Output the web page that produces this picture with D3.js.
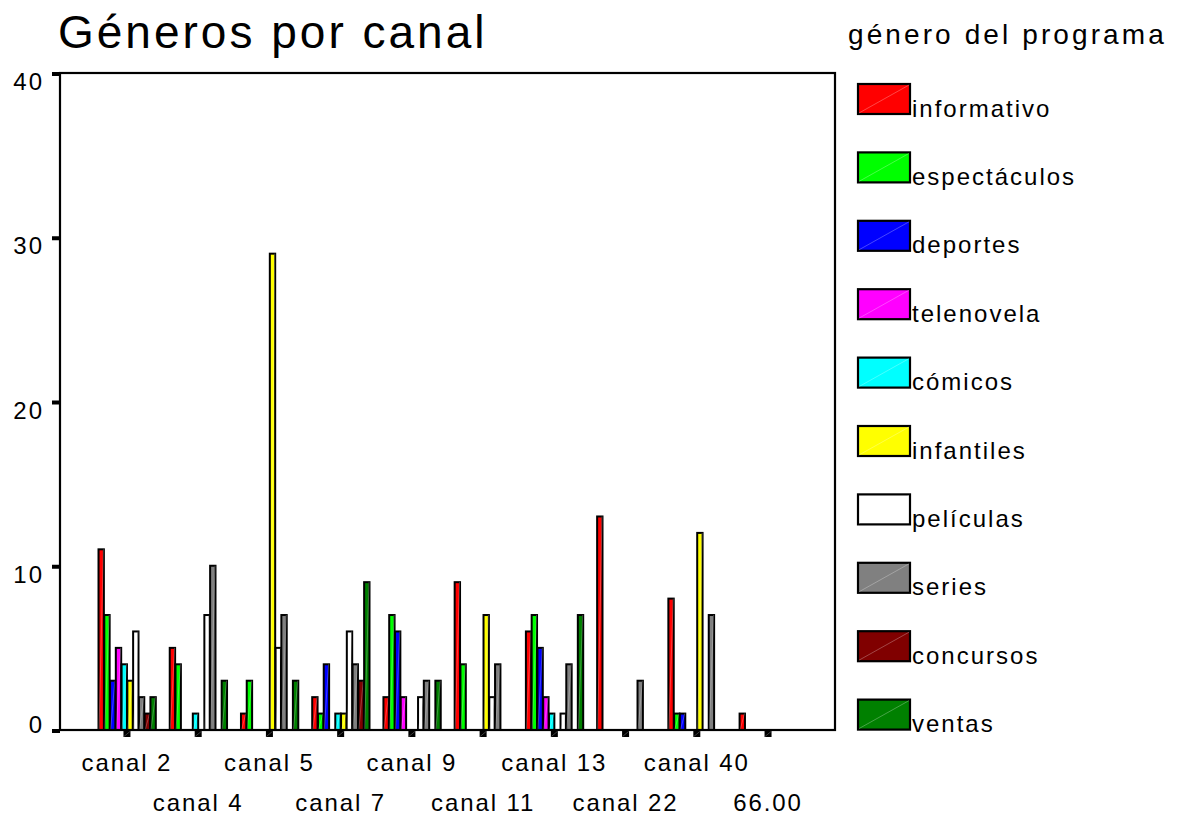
<!DOCTYPE html>
<html>
<head>
<meta charset="utf-8">
<script src="https://cdn.jsdelivr.net/npm/d3@7/dist/d3.min.js"></script>
<style>
  html, body { margin: 0; padding: 0; background: #fff; }
  svg { display: block; }
  text { font-family: "Liberation Sans", Arial, sans-serif; fill: #000; }
</style>
</head>
<body>
<svg id="chart" width="1196" height="816"></svg>
<script>
// ---- data ----
const categories = ["canal 2", "canal 4", "canal 5", "canal 7", "canal 9", "canal 11", "canal 13", "canal 22", "canal 40", "66.00"];
const seriesNames = ["informativo", "espectáculos", "deportes", "telenovela", "cómicos", "infantiles", "películas", "series", "concursos", "ventas"];
const seriesColors = ["#ff0000", "#00ff00", "#0000ff", "#ff00ff", "#00ffff", "#ffff00", "#ffffff", "#808080", "#800000", "#008000"];
const informativo  = [11, 5, 1, 2, 2, 9, 6, 13, 8, 1];
const espectaculos = [7, 4, 3, 1, 7, 4, 7, 0, 1, 0];
const deportes     = [3, 0, 0, 4, 6, 0, 5, 0, 1, 0];
const telenovela   = [5, 0, 0, 0, 2, 0, 2, 0, 0, 0];
const comicos      = [4, 1, 0, 1, 0, 0, 1, 0, 0, 0];
const infantiles   = [3, 0, 29, 1, 0, 7, 0, 0, 12, 0];
const peliculas    = [6, 7, 5, 6, 2, 2, 1, 0, 0, 0];
const series       = [2, 10, 7, 4, 3, 4, 4, 3, 7, 0];
const concursos    = [1, 0, 0, 3, 0, 0, 0, 0, 0, 0];
const ventas       = [2, 3, 3, 9, 3, 0, 7, 0, 0, 0];
const yTicks = [0, 10, 20, 30, 40];
const titleText = "Géneros por canal";
const legendTitle = "género del programa";

const seriesValues = [informativo, espectaculos, deportes, telenovela, comicos, infantiles, peliculas, series, concursos, ventas];

// ---- layout ----
const svg = d3.select("#chart");
svg.append("rect").attr("width", 1196).attr("height", 816).attr("fill", "#fff");

const plot = { left: 60, right: 835, top: 73, bottom: 730 };

const x = d3.scalePoint().domain(categories).range([plot.left, plot.right]).padding(0.94);
const groupW = x.step() * 0.81;
const xInner = d3.scaleBand().domain(seriesNames).range([-groupW / 2 - 0.6, groupW / 2 - 0.6]);
const y = d3.scaleLinear().domain([0, 40]).range([plot.bottom, plot.top]);

// title
svg.append("text")
  .attr("x", 58).attr("y", 48)
  .style("font-size", "46px").style("letter-spacing", "3px")
  .text(titleText);

// bars
const gBars = svg.append("g");
categories.forEach((cat, ci) => {
  seriesNames.forEach((s, si) => {
    const v = seriesValues[si][ci];
    if (!v) return;
    const bx = x(cat) + xInner(s) + 1;
    const bw = xInner.bandwidth() - 0.4;
    const by = y(v);
    const bh = y(0) - y(v);
    gBars.append("rect")
      .attr("x", bx).attr("y", by).attr("width", bw).attr("height", bh)
      .attr("fill", seriesColors[si]).attr("stroke", "#000").attr("stroke-width", 2);
    gBars.append("line")
      .attr("x1", bx + 0.5).attr("y1", y(0)).attr("x2", bx + bw - 0.5).attr("y2", by)
      .attr("stroke", "#fff").attr("stroke-opacity", 0.3).attr("stroke-width", 0.8);
  });
});

// frame
svg.append("rect")
  .attr("x", plot.left).attr("y", plot.top)
  .attr("width", plot.right - plot.left).attr("height", plot.bottom - plot.top)
  .attr("fill", "none").attr("stroke", "#000").attr("stroke-width", 2.2);

// y axis ticks + labels
const gy = svg.append("g");
yTicks.forEach(t => {
  const ty = y(t);
  gy.append("rect")
    .attr("x", plot.left - 8).attr("y", ty - 1).attr("width", 8).attr("height", 4)
    .attr("fill", "#000");
  gy.append("text")
    .attr("x", 44).attr("y", Math.min(ty + 17, plot.bottom + 3))
    .attr("text-anchor", "end")
    .style("font-size", "24px").style("letter-spacing", "2px")
    .text(t);
});

// x axis ticks + labels
const gx = svg.append("g");
categories.forEach((cat, i) => {
  const cx = x(cat);
  gx.append("rect")
    .attr("x", cx - 3.5).attr("y", plot.bottom + 1).attr("width", 7).attr("height", 6)
    .attr("fill", "#000");
  gx.append("line")
    .attr("x1", cx - 3).attr("y1", plot.bottom + 6.5).attr("x2", cx + 3).attr("y2", plot.bottom + 1.5)
    .attr("stroke", "#fff").attr("stroke-opacity", 0.35).attr("stroke-width", 0.7);
  gx.append("text")
    .attr("x", cx).attr("y", i % 2 === 0 ? 771 : 811)
    .attr("text-anchor", "middle")
    .style("font-size", "24px").style("letter-spacing", "1.9px")
    .text(cat);
});

// legend
svg.append("text")
  .attr("x", 848).attr("y", 44)
  .style("font-size", "28px").style("letter-spacing", "3.1px")
  .text(legendTitle);

const legendY = d3.scaleLinear().domain([0, seriesNames.length - 1]).range([84, 699.6]);
const gl = svg.append("g");
seriesNames.forEach((s, i) => {
  const ly = legendY(i);
  gl.append("rect")
    .attr("x", 858).attr("y", ly).attr("width", 52).attr("height", 30)
    .attr("fill", seriesColors[i]).attr("stroke", "#000").attr("stroke-width", 2.2);
  gl.append("line")
    .attr("x1", 859).attr("y1", ly + 29).attr("x2", 909).attr("y2", ly + 1)
    .attr("stroke", "#fff").attr("stroke-opacity", 0.35).attr("stroke-width", 0.8);
  gl.append("text")
    .attr("x", 912).attr("y", ly + 32.5)
    .style("font-size", "24px").style("letter-spacing", "2px")
    .text(s);
});
</script>
</body>
</html>
